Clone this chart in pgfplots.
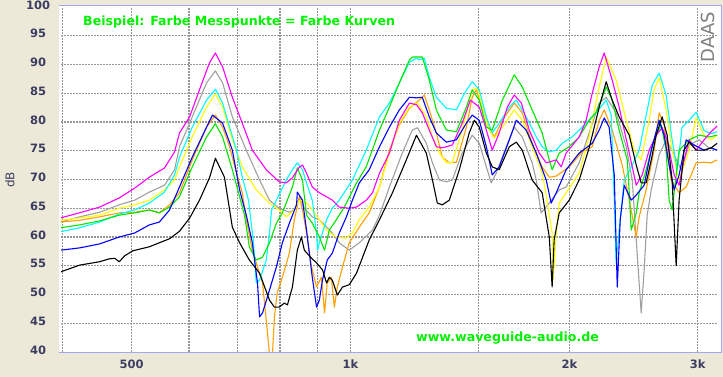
\documentclass[border=0pt]{standalone}
\usepackage{fontspec}
\setmainfont{DejaVu Sans}
\usepackage{pgfplots}
\pgfplotsset{compat=1.18}
\definecolor{bgbeige}{RGB}{236,233,216}
\definecolor{ticknavy}{RGB}{60,60,96}
\definecolor{frameblue}{RGB}{165,165,240}
\definecolor{gridgray}{RGB}{150,150,150}
\definecolor{lime}{RGB}{0,240,0}
\definecolor{cgreen}{RGB}{0,230,0}
\definecolor{cgray}{RGB}{160,160,160}
\definecolor{corange}{RGB}{255,160,0}
\definecolor{cyellow}{RGB}{255,255,0}
\definecolor{ccyan}{RGB}{0,255,255}
\definecolor{cmagenta}{RGB}{255,0,255}
\definecolor{cblue}{RGB}{0,0,255}
\pgfplotsset{gridl/.style={draw=gridgray, line width=1.3pt, dash pattern=on 1.5pt off 1.5pt, forget plot}}
\begin{document}
\begin{tikzpicture}
\useasboundingbox (0,0) rectangle (723pt,377pt);
\fill[bgbeige] (0,0) rectangle (723pt,377pt);
\fill[white] (59pt,24pt) rectangle (721pt,371pt);
\begin{axis}[
  at={(61pt,25pt)}, anchor=south west, scale only axis,
  width=657pt, height=345pt,
  xmode=log, xmin=400, xmax=3200, ymin=40, ymax=100,
  xtick={500,1000,2000,3000}, xticklabels={500,1k,2k,3k},
  ytick={40,45,...,100},
  major tick length=0pt, minor tick length=0pt,
  axis line style={draw=none},
  /pgf/number format/assume math mode=true,
  tick label style={font=\bfseries\fontsize{11.5}{13}\selectfont, text=ticknavy},
  yticklabel style={anchor=center, xshift=-23pt, yshift=2pt},
  xticklabel style={anchor=center, yshift=-12.5pt},
  every axis plot/.append style={line width=1.1pt, line join=round},
]
% grid lines
\addplot[gridl] coordinates {(402,40)(402,100)};
\addplot[gridl] coordinates {(500,40)(500,100)};
\addplot[gridl] coordinates {(600,40)(600,100)};
\addplot[gridl] coordinates {(700,40)(700,100)};
\addplot[gridl] coordinates {(800,40)(800,100)};
\addplot[gridl] coordinates {(900,40)(900,100)};
\addplot[gridl] coordinates {(1000,40)(1000,100)};
\addplot[gridl] coordinates {(1500,40)(1500,100)};
\addplot[gridl] coordinates {(2000,40)(2000,100)};
\addplot[gridl] coordinates {(3000,40)(3000,100)};
\addplot[gridl] coordinates {(400,45)(3200,45)};
\addplot[gridl] coordinates {(400,50)(3200,50)};
\addplot[gridl] coordinates {(400,55)(3200,55)};
\addplot[gridl] coordinates {(400,60)(3200,60)};
\addplot[gridl] coordinates {(400,65)(3200,65)};
\addplot[gridl] coordinates {(400,70)(3200,70)};
\addplot[gridl] coordinates {(400,75)(3200,75)};
\addplot[gridl] coordinates {(400,80)(3200,80)};
\addplot[gridl] coordinates {(400,85)(3200,85)};
\addplot[gridl] coordinates {(400,90)(3200,90)};
\addplot[gridl] coordinates {(400,95)(3200,95)};
% gray
\addplot[color=cgray] coordinates {(399,62.6)(424,63.5)(452,64.3)(481,65.6)(505,66.4)(529,67.8)(555,69.0)(573,71.7)(582,75.7)(606,80.9)(634,86.8)(652,88.9)(667,86.8)(688,80.9)(719,75.1)(750,69.9)(774,66.4)(798,65.0)(824,64.3)(837,64.7)(851,67.0)(864,65.0)(886,63.5)(906,63.0)(944,60.7)(965,59.0)(996,57.7)(1028,59.0)(1072,61.2)(1096,63.8)(1131,68.7)(1178,74.6)(1216,78.6)(1236,79.0)(1271,76.3)(1296,72.9)(1325,69.9)(1354,69.6)(1380,69.9)(1424,74.6)(1470,77.7)(1503,76.3)(1537,72.2)(1561,69.4)(1586,71.1)(1637,75.7)(1679,79.1)(1722,77.4)(1777,72.9)(1800,69.9)(1828,64.2)(1876,65.9)(1936,68.2)(1979,68.7)(2062,72.9)(2128,78.1)(2197,83.3)(2246,84.3)(2318,81.6)(2393,75.7)(2439,69.9)(2470,59.5)(2509,46.8)(2533,54.3)(2557,63.8)(2590,68.2)(2656,74.3)(2715,76.9)(2785,74.3)(2847,71.7)(2920,76.0)(3014,76.9)(3111,75.5)(3191,75.1)};
% orange
\addplot[color=corange] coordinates {(399,62.6)(424,62.9)(452,63.5)(481,64.2)(505,64.3)(529,64.7)(546,64.2)(564,65.6)(582,67.7)(606,73.4)(634,79.1)(652,81.2)(667,79.1)(682,75.7)(697,71.1)(710,67.7)(719,63.0)(733,57.7)(757,52.0)(769,43.3)(774,39.5)(781,39.5)(786,46.1)(793,50.3)(806,53.0)(824,57.2)(837,63.0)(851,67.0)(859,64.7)(870,60.7)(884,54.8)(898,51.3)(912,53.0)(921,46.8)(929,52.0)(941,53.0)(950,47.8)(959,51.3)(975,54.8)(996,59.0)(1028,61.7)(1061,64.2)(1096,68.7)(1131,75.1)(1167,79.5)(1205,82.4)(1243,83.8)(1263,84.7)(1283,82.1)(1312,78.1)(1337,73.9)(1367,72.9)(1398,73.0)(1443,79.1)(1470,84.3)(1489,85.6)(1517,82.6)(1551,79.1)(1576,77.4)(1617,80.3)(1679,83.3)(1722,81.6)(1777,76.3)(1834,72.2)(1876,70.4)(1918,70.6)(1998,72.2)(2082,74.8)(2149,75.7)(2197,80.3)(2232,82.1)(2289,78.6)(2363,72.5)(2416,66.4)(2470,60.0)(2493,63.5)(2549,68.2)(2614,75.1)(2656,81.6)(2698,79.5)(2758,69.9)(2829,67.7)(2893,68.7)(2986,72.9)(3062,73.0)(3131,72.9)(3191,73.4)};
% yellow
\addplot[color=cyellow] coordinates {(399,62.9)(424,63.3)(452,63.8)(481,65.0)(505,65.6)(529,66.4)(555,68.2)(573,69.9)(582,72.2)(606,77.4)(634,82.6)(652,84.9)(667,82.6)(688,76.9)(710,72.2)(742,68.2)(774,65.9)(798,64.7)(816,63.5)(837,64.7)(851,66.4)(870,65.9)(886,64.7)(906,63.0)(927,61.2)(956,60.0)(987,59.8)(1006,60.7)(1028,63.0)(1061,65.2)(1096,68.7)(1131,74.6)(1167,79.8)(1205,82.6)(1236,83.3)(1271,80.9)(1296,77.4)(1325,74.6)(1354,72.9)(1380,73.0)(1424,78.6)(1470,85.6)(1494,85.9)(1517,82.6)(1551,78.6)(1576,77.2)(1617,79.1)(1679,82.1)(1722,80.3)(1777,75.7)(1834,71.1)(1858,67.3)(1893,60.7)(1899,52.5)(1918,60.7)(1936,65.9)(1979,67.7)(2062,71.1)(2128,77.4)(2197,86.1)(2246,91.3)(2318,87.3)(2393,80.3)(2454,75.1)(2509,73.4)(2573,80.3)(2614,85.6)(2656,87.7)(2715,82.1)(2767,75.1)(2829,69.9)(2920,75.1)(2986,80.7)(3062,77.7)(3131,76.9)(3191,77.7)};
% cyan
\addplot[color=ccyan] coordinates {(399,60.9)(424,61.6)(452,62.6)(481,64.0)(505,64.7)(529,65.9)(555,67.8)(573,70.8)(582,73.9)(606,79.1)(634,83.8)(652,85.7)(667,83.3)(682,79.1)(697,75.1)(710,70.4)(724,66.4)(735,59.5)(742,52.0)(750,52.5)(766,56.0)(774,60.7)(779,64.7)(791,66.4)(816,69.9)(832,71.7)(845,72.9)(859,71.7)(870,69.4)(886,66.4)(898,60.7)(901,57.7)(906,59.0)(927,63.0)(944,65.0)(965,66.4)(1006,69.9)(1051,75.1)(1096,80.9)(1131,83.3)(1167,86.8)(1205,90.4)(1232,91.1)(1243,90.8)(1263,91.1)(1283,87.8)(1312,84.3)(1354,82.4)(1398,82.1)(1434,85.0)(1470,87.0)(1503,85.6)(1537,80.9)(1566,78.1)(1601,79.8)(1653,82.6)(1690,83.8)(1744,80.9)(1800,77.4)(1834,75.7)(1876,74.8)(1918,75.1)(1954,76.3)(2017,77.4)(2108,79.8)(2176,81.6)(2246,83.8)(2282,81.2)(2304,66.4)(2318,55.5)(2340,61.2)(2378,69.9)(2439,72.5)(2493,75.1)(2549,81.2)(2598,86.4)(2656,88.5)(2715,84.7)(2767,76.9)(2812,71.7)(2856,79.1)(2920,80.3)(2986,81.7)(3062,78.5)(3131,78.0)(3191,78.3)};
% green
\addplot[color=cgreen] coordinates {(399,61.6)(424,62.1)(452,62.8)(481,63.8)(505,64.2)(529,64.7)(546,64.2)(564,65.2)(582,67.0)(606,72.2)(634,77.4)(652,79.7)(667,77.4)(688,71.7)(715,63.8)(726,58.3)(742,56.0)(757,56.5)(774,59.0)(791,62.4)(806,64.2)(832,68.7)(845,72.0)(859,69.9)(870,63.8)(886,62.4)(906,60.0)(921,57.7)(935,61.2)(956,63.0)(975,64.7)(987,65.9)(1019,69.4)(1051,72.2)(1096,78.6)(1131,82.6)(1167,86.8)(1205,90.8)(1216,91.3)(1255,91.3)(1283,87.3)(1312,82.1)(1354,78.6)(1398,78.3)(1443,82.6)(1470,85.6)(1503,83.8)(1537,79.1)(1566,78.6)(1617,83.8)(1679,88.2)(1722,86.1)(1777,82.1)(1834,78.1)(1876,73.4)(1893,71.7)(1936,74.6)(1998,75.7)(2062,77.4)(2128,80.3)(2176,81.7)(2218,84.3)(2246,86.1)(2289,83.8)(2340,78.6)(2401,73.4)(2416,67.7)(2431,61.2)(2470,64.2)(2493,67.7)(2549,71.7)(2614,76.9)(2673,79.5)(2715,75.1)(2741,66.4)(2767,64.7)(2829,75.1)(2920,76.9)(3014,77.7)(3111,77.4)(3191,77.7)};
% magenta
\addplot[color=cmagenta] coordinates {(399,63.3)(424,64.2)(452,65.2)(481,66.8)(505,68.5)(529,70.4)(555,72.0)(573,74.8)(582,78.1)(601,80.9)(620,85.6)(640,90.3)(652,92.0)(667,89.6)(688,84.3)(710,79.8)(733,75.1)(766,71.7)(798,69.6)(816,69.4)(832,70.3)(851,72.2)(859,72.5)(870,71.1)(886,68.7)(906,67.7)(927,67.0)(944,66.4)(965,65.2)(996,65.0)(1019,65.2)(1051,66.4)(1072,67.7)(1096,71.1)(1131,74.6)(1167,80.3)(1205,83.3)(1232,83.0)(1255,81.6)(1283,78.6)(1312,75.7)(1337,75.5)(1380,76.0)(1424,79.8)(1461,83.8)(1503,82.6)(1537,78.6)(1566,75.1)(1601,78.1)(1643,82.6)(1679,84.7)(1717,83.3)(1761,78.6)(1817,74.6)(1858,72.9)(1918,73.4)(1948,72.2)(1979,74.6)(2062,77.4)(2108,80.3)(2149,85.0)(2197,89.6)(2232,92.0)(2289,87.3)(2340,82.6)(2416,74.6)(2470,69.0)(2517,70.8)(2573,75.1)(2631,77.7)(2681,79.0)(2724,76.9)(2785,70.8)(2829,69.0)(2874,73.4)(2920,76.9)(2986,75.1)(3062,76.9)(3131,78.3)(3191,79.3)};
% blue
\addplot[color=cblue] coordinates {(399,57.7)(424,58.1)(452,58.8)(481,60.0)(505,60.7)(529,62.1)(546,62.6)(564,64.7)(582,68.7)(606,73.9)(634,79.1)(646,81.2)(667,79.8)(688,75.1)(704,68.2)(719,63.8)(733,59.0)(745,52.0)(750,46.1)(757,46.8)(774,50.8)(791,54.8)(806,59.0)(824,62.4)(843,65.6)(845,67.8)(859,66.4)(870,61.2)(886,53.0)(898,47.8)(906,49.0)(915,52.5)(929,56.0)(944,57.2)(965,60.7)(987,63.5)(1006,66.4)(1028,69.4)(1061,71.7)(1096,75.7)(1131,79.1)(1167,82.1)(1205,84.3)(1232,84.2)(1255,84.3)(1283,80.9)(1312,78.1)(1354,76.5)(1398,76.9)(1443,79.8)(1470,81.2)(1503,80.3)(1537,75.7)(1566,70.8)(1601,72.2)(1653,76.9)(1690,80.3)(1744,78.6)(1800,74.6)(1858,69.9)(1887,65.9)(1918,67.7)(1979,71.7)(2062,74.6)(2149,76.3)(2197,78.6)(2232,80.7)(2267,79.1)(2304,70.8)(2326,51.3)(2348,63.0)(2378,69.0)(2431,66.4)(2470,67.3)(2533,69.0)(2590,75.1)(2656,80.3)(2698,77.7)(2741,72.5)(2785,68.2)(2829,70.8)(2893,76.9)(2967,76.0)(3062,75.1)(3131,75.5)(3191,75.1)};
% black
\addplot[color=black] coordinates {(399,53.9)(424,55.1)(452,55.7)(466,56.2)(474,56.3)(481,55.7)(489,56.7)(502,57.6)(529,58.3)(564,59.7)(582,61.0)(601,63.3)(620,66.4)(640,70.3)(652,73.7)(671,70.4)(688,61.7)(704,59.0)(726,56.0)(750,53.7)(774,49.0)(786,47.8)(798,47.8)(811,48.5)(819,48.2)(832,51.3)(845,57.7)(856,60.0)(864,57.7)(884,56.3)(898,55.5)(915,54.3)(927,52.0)(935,53.0)(944,52.5)(959,49.9)(975,51.3)(996,51.7)(1019,53.7)(1061,59.5)(1096,63.0)(1142,67.7)(1193,73.4)(1232,77.7)(1271,74.6)(1296,69.9)(1316,65.9)(1337,65.6)(1367,66.4)(1411,71.7)(1456,78.1)(1480,80.3)(1503,79.1)(1537,74.6)(1566,72.2)(1601,71.7)(1653,75.7)(1690,76.5)(1722,75.1)(1777,69.9)(1834,67.7)(1876,60.0)(1893,51.3)(1905,59.5)(1936,64.2)(1998,66.4)(2062,69.9)(2128,75.5)(2197,82.6)(2246,87.0)(2289,83.8)(2340,80.9)(2416,77.7)(2470,72.5)(2509,69.4)(2549,69.4)(2590,73.4)(2631,77.7)(2681,80.9)(2724,77.7)(2767,69.9)(2803,55.0)(2829,66.4)(2874,75.1)(2920,76.5)(2986,75.1)(3062,75.1)(3131,75.5)(3191,76.3)};
\end{axis}
\draw[frameblue, line width=1pt] (59pt,24pt) -- (721pt,24pt) -- (721pt,371pt) -- (59pt,371pt);
\node[anchor=west, inner sep=0pt, text=lime, font=\bfseries\fontsize{12.6}{14}\selectfont] at (83pt,355pt) {Beispiel: Farbe Messpunkte = Farbe Kurven};
\node[anchor=west, inner sep=0pt, text=lime, font=\bfseries\fontsize{12.6}{14}\selectfont] at (416pt,39pt) {www.waveguide-audio.de};
\node[rotate=90, inner sep=0pt, text=gray, font=\fontsize{18}{20}\selectfont] at (708pt,340pt) {DAAS};
\node[rotate=90, inner sep=0pt, text=ticknavy, font=\fontsize{12}{14}\selectfont] at (10pt,197pt) {dB};
\end{tikzpicture}
\end{document}
